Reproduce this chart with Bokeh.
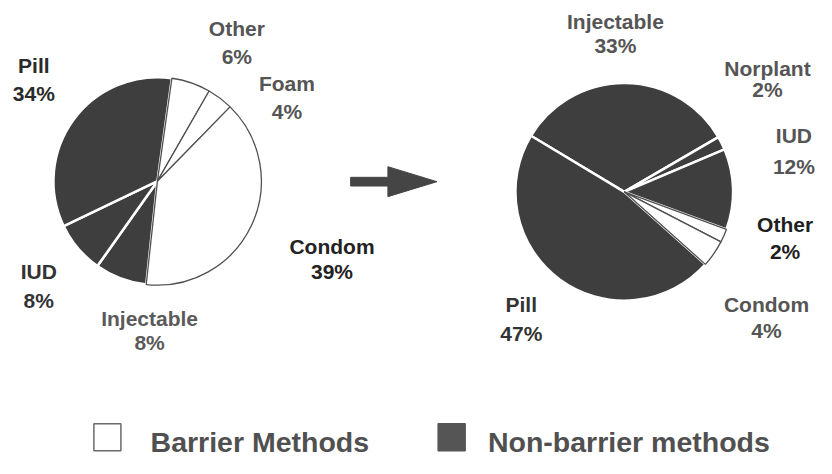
import numpy as np
from bokeh.plotting import figure
from bokeh.models import Range1d, ColumnDataSource
from bokeh.embed import file_html
from bokeh.resources import INLINE
from bokeh.core.properties import value

# ---------------- data ----------------
before_methods = ["Other", "Foam", "Condom", "Injectable", "IUD", "Pill"]
before_pct = [6, 4, 39, 8, 8, 34]
before_barrier = [True, True, True, False, False, False]

after_methods = ["Injectable", "Norplant", "IUD", "Other", "Condom", "Pill"]
after_pct = [33, 2, 12, 2, 4, 47]
after_barrier = [False, False, False, True, True, False]

legend_labels = ["Barrier Methods", "Non-barrier methods"]

# ---------------- layout / style ----------------
W, H = 816, 458          # figure size (page has 8px margin)
RW, RH = 832, 474        # layout coordinate space (reference pixels)
TXT_SHIFT = 8            # compensates the svg text baseline placement
def px(X):
    return X
def py(Y):
    return RH - Y
def ty(Y):
    return RH - Y + TXT_SHIFT

DARK = "#3e3e3e"
EDGE = "#505050"
FONT = value("Liberation Sans")

# pie geometry: centre, radius, start angle (deg clockwise from north)
left_pie = dict(cx=160, cy=187, r=106, start=8)
right_pie = dict(cx=636, cy=198, r=111, start=301)

# label layout: (centre x, name baseline y, pct baseline y, colour)
left_label_pos = [(241, 37, 66, "#555555"), (292, 94, 123, "#555555"),
                  (338, 263, 288, "#222222"), (152, 337, 362, "#5a5a5a"),
                  (39, 288, 318, "#333333"), (34, 75, 104, "#2a2a2a")]
right_label_pos = [(627, 30, 55, "#555555"), (782, 78, 100, "#555555"),
                   (809, 148, 180, "#555555"), (800, 240, 268, "#1e1e1e"),
                   (781, 323, 350, "#555555"), (531, 323, 353, "#333333")]

p = figure(width=W, height=H, x_range=Range1d(0, RW), y_range=Range1d(0, RH),
           output_backend="svg", toolbar_location=None, min_border=0,
           x_axis_type=None, y_axis_type=None)
p.grid.visible = False
p.outline_line_color = None
p.background_fill_color = "white"
p.border_fill_color = "white"


def draw_pie(pie, methods, pct, barrier, label_pos):
    vals = np.array(pct, dtype=float)
    frac = vals / vals.sum() * 2 * np.pi
    th0 = np.radians(pie["start"])
    ends = th0 + np.cumsum(frac)
    starts = ends - frac
    sa = np.pi / 2 - starts
    ea = np.pi / 2 - ends
    bar = np.array(barrier)
    cx, cy = px(pie["cx"]), py(pie["cy"])
    dark = ColumnDataSource(dict(sa=sa[~bar], ea=ea[~bar]))
    light = ColumnDataSource(dict(sa=sa[bar], ea=ea[bar]))
    p.wedge(x=cx, y=cy, radius=pie["r"], start_angle="sa", end_angle="ea",
            direction="clock", source=dark, fill_color=DARK,
            line_color="white", line_width=2.5)
    p.wedge(x=cx, y=cy, radius=pie["r"], start_angle="sa", end_angle="ea",
            direction="clock", source=light, fill_color="white",
            line_color=EDGE, line_width=1.3)
    names = ColumnDataSource(dict(
        x=[px(l[0]) for l in label_pos], y=[ty(l[1]) for l in label_pos],
        t=methods, c=[l[3] for l in label_pos]))
    pcts = ColumnDataSource(dict(
        x=[px(l[0]) for l in label_pos], y=[ty(l[2]) for l in label_pos],
        t=[f"{v}%" for v in pct], c=[l[3] for l in label_pos]))
    for src in (names, pcts):
        p.text(x="x", y="y", text="t", source=src, text_color="c",
               text_font=FONT, text_font_style="bold",
               text_font_size="21px", text_align="center",
               text_baseline="alphabetic")


draw_pie(left_pie, before_methods, before_pct, before_barrier, left_label_pos)
draw_pie(right_pie, after_methods, after_pct, after_barrier, right_label_pos)

# arrow between the pies (decoration)
arrow_x = [357, 395, 395, 445, 395, 395, 357]
arrow_y = [183, 183, 172, 187.5, 203, 192, 192]
p.patch(x=[px(v) for v in arrow_x], y=[py(v) for v in arrow_y],
        fill_color="#454545", line_color="#454545", line_width=1)

# legend
sq = ColumnDataSource(dict(x=[px(109), px(460)], y=[py(452), py(452)],
                           f=["white", "#555555"], l=["#6a6a6a", "#555555"]))
p.rect(x="x", y="y", width=27, height=27, width_units="screen",
       height_units="screen", source=sq, fill_color="f", line_color="l",
       line_width=1.5)
lt = ColumnDataSource(dict(x=[px(153), px(497)], y=[ty(465), ty(465)],
                           t=legend_labels))
p.text(x="x", y="y", text="t", source=lt, text_color="#505050",
       text_font=FONT, text_font_style="bold", text_font_size="28.5px",
       text_align="left", text_baseline="alphabetic")

open("out.html", "w").write(file_html(p, INLINE))
